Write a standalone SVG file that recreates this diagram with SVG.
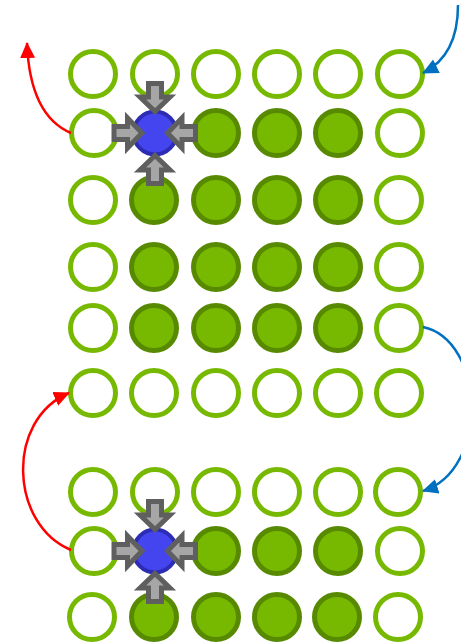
<svg xmlns="http://www.w3.org/2000/svg" width="461" height="643" viewBox="0 0 461 643">
  <style>
    .empty { fill: #ffffff; stroke: #76b900; stroke-width: 5; }
    .full { fill: #76b900; stroke: #578a00; stroke-width: 5; }
    .active { fill: #4545f0; stroke: #2c2cb4; stroke-width: 4; }
    .push { fill: #a6a6a6; stroke: #5f5f5f; stroke-width: 5; stroke-linejoin: miter; }
    .red { fill: none; stroke: #ff0000; stroke-width: 2.5; }
    .blue { fill: none; stroke: #0070c0; stroke-width: 2.5; }
  </style>
  <defs>
    <!-- fat arrow pointing right, tip at the origin -->
    <polygon id="push" class="push" points="-28,-6.5 -14.5,-6.5 -14.5,-15 0,0 -14.5,15 -14.5,6.5 -28,6.5"/>
    <marker id="headRed" viewBox="0 0 16 16" markerUnits="userSpaceOnUse" markerWidth="16" markerHeight="16" refX="15" refY="8" orient="auto">
      <path d="M0,0.5 L16,8 L0,15.5 z" fill="#ff0000"/>
    </marker>
    <marker id="headBlue" viewBox="0 0 16 16" markerUnits="userSpaceOnUse" markerWidth="16" markerHeight="16" refX="15" refY="8" orient="auto">
      <path d="M0,0.5 L16,8 L0,15.5 z" fill="#0070c0"/>
    </marker>
  </defs>

  <!-- upper grid -->
  <g id="row1">
    <circle class="empty" cx="93" cy="74" r="22.5"/>
    <circle class="empty" cx="155" cy="74" r="22.5"/>
    <circle class="empty" cx="216" cy="74" r="22.5"/>
    <circle class="empty" cx="277" cy="74" r="22.5"/>
    <circle class="empty" cx="338" cy="74" r="22.5"/>
    <circle class="empty" cx="400" cy="74" r="22.5"/>
  </g>
  <g id="row2">
    <circle class="empty" cx="94" cy="133" r="22.5"/>
    <circle class="full" cx="216" cy="133" r="22.5"/>
    <circle class="full" cx="277" cy="133" r="22.5"/>
    <circle class="full" cx="338" cy="133" r="22.5"/>
    <circle class="empty" cx="400" cy="133" r="22.5"/>
  </g>
  <g id="row3">
    <circle class="empty" cx="93" cy="200" r="22.5"/>
    <circle class="full" cx="154" cy="200" r="22.5"/>
    <circle class="full" cx="216" cy="200" r="22.5"/>
    <circle class="full" cx="277" cy="200" r="22.5"/>
    <circle class="full" cx="338" cy="200" r="22.5"/>
    <circle class="empty" cx="399" cy="200" r="22.5"/>
  </g>
  <g id="row4">
    <circle class="empty" cx="93" cy="267" r="22.5"/>
    <circle class="full" cx="154" cy="267" r="22.5"/>
    <circle class="full" cx="216" cy="267" r="22.5"/>
    <circle class="full" cx="277" cy="267" r="22.5"/>
    <circle class="full" cx="338" cy="267" r="22.5"/>
    <circle class="empty" cx="399" cy="267" r="22.5"/>
  </g>
  <g id="row5">
    <circle class="empty" cx="93" cy="328" r="22.5"/>
    <circle class="full" cx="154" cy="328" r="22.5"/>
    <circle class="full" cx="216" cy="328" r="22.5"/>
    <circle class="full" cx="277" cy="328" r="22.5"/>
    <circle class="full" cx="338" cy="328" r="22.5"/>
    <circle class="empty" cx="399" cy="328" r="22.5"/>
  </g>
  <g id="row6">
    <circle class="empty" cx="93" cy="393" r="22.5"/>
    <circle class="empty" cx="154" cy="393" r="22.5"/>
    <circle class="empty" cx="216" cy="393" r="22.5"/>
    <circle class="empty" cx="277" cy="393" r="22.5"/>
    <circle class="empty" cx="338" cy="393" r="22.5"/>
    <circle class="empty" cx="399" cy="393" r="22.5"/>
  </g>

  <!-- lower grid -->
  <g id="row7">
    <circle class="empty" cx="93" cy="492" r="22.5"/>
    <circle class="empty" cx="155" cy="492" r="22.5"/>
    <circle class="empty" cx="216" cy="492" r="22.5"/>
    <circle class="empty" cx="277" cy="492" r="22.5"/>
    <circle class="empty" cx="338" cy="492" r="22.5"/>
    <circle class="empty" cx="398" cy="492" r="22.5"/>
  </g>
  <g id="row8">
    <circle class="empty" cx="94" cy="551" r="22.5"/>
    <circle class="full" cx="216" cy="551" r="22.5"/>
    <circle class="full" cx="277" cy="551" r="22.5"/>
    <circle class="full" cx="338" cy="551" r="22.5"/>
    <circle class="empty" cx="400" cy="551" r="22.5"/>
  </g>
  <g id="row9">
    <circle class="empty" cx="92" cy="617" r="22.5"/>
    <circle class="full" cx="154" cy="617" r="22.5"/>
    <circle class="full" cx="216" cy="617" r="22.5"/>
    <circle class="full" cx="277" cy="617" r="22.5"/>
    <circle class="full" cx="337" cy="617" r="22.5"/>
    <circle class="empty" cx="398" cy="617" r="22.5"/>
  </g>

  <!-- active cell with inward pushes -->
  <g id="active-top" transform="translate(155,133)">
    <circle class="active" cx="0" cy="0" r="21.5"/>
    <use href="#push" transform="translate(0,-21.5) rotate(90)"/>
    <use href="#push" transform="translate(0,22.5) rotate(-90)"/>
    <use href="#push" transform="translate(-13,0)"/>
    <use href="#push" transform="translate(12.5,0) rotate(180)"/>
  </g>
  <g id="active-bottom" transform="translate(155,551)">
    <circle class="active" cx="0" cy="0" r="21.5"/>
    <use href="#push" transform="translate(0,-21.5) rotate(90)"/>
    <use href="#push" transform="translate(0,22.5) rotate(-90)"/>
    <use href="#push" transform="translate(-13,0)"/>
    <use href="#push" transform="translate(12.5,0) rotate(180)"/>
  </g>

  <!-- wrap-around connectors -->
  <g id="connectors">
    <path class="red" d="M71,133 C45,122 29,95 27,43" marker-end="url(#headRed)"/>
    <path class="red" d="M71,550 C10,525 5,420 69,393" marker-end="url(#headRed)"/>
    <path class="blue" d="M458,5 C458,40 445,62 423,73" marker-end="url(#headBlue)"/>
    <path class="blue" d="M423,327 C485,340 490,470 423,491" marker-end="url(#headBlue)"/>
  </g>
</svg>
